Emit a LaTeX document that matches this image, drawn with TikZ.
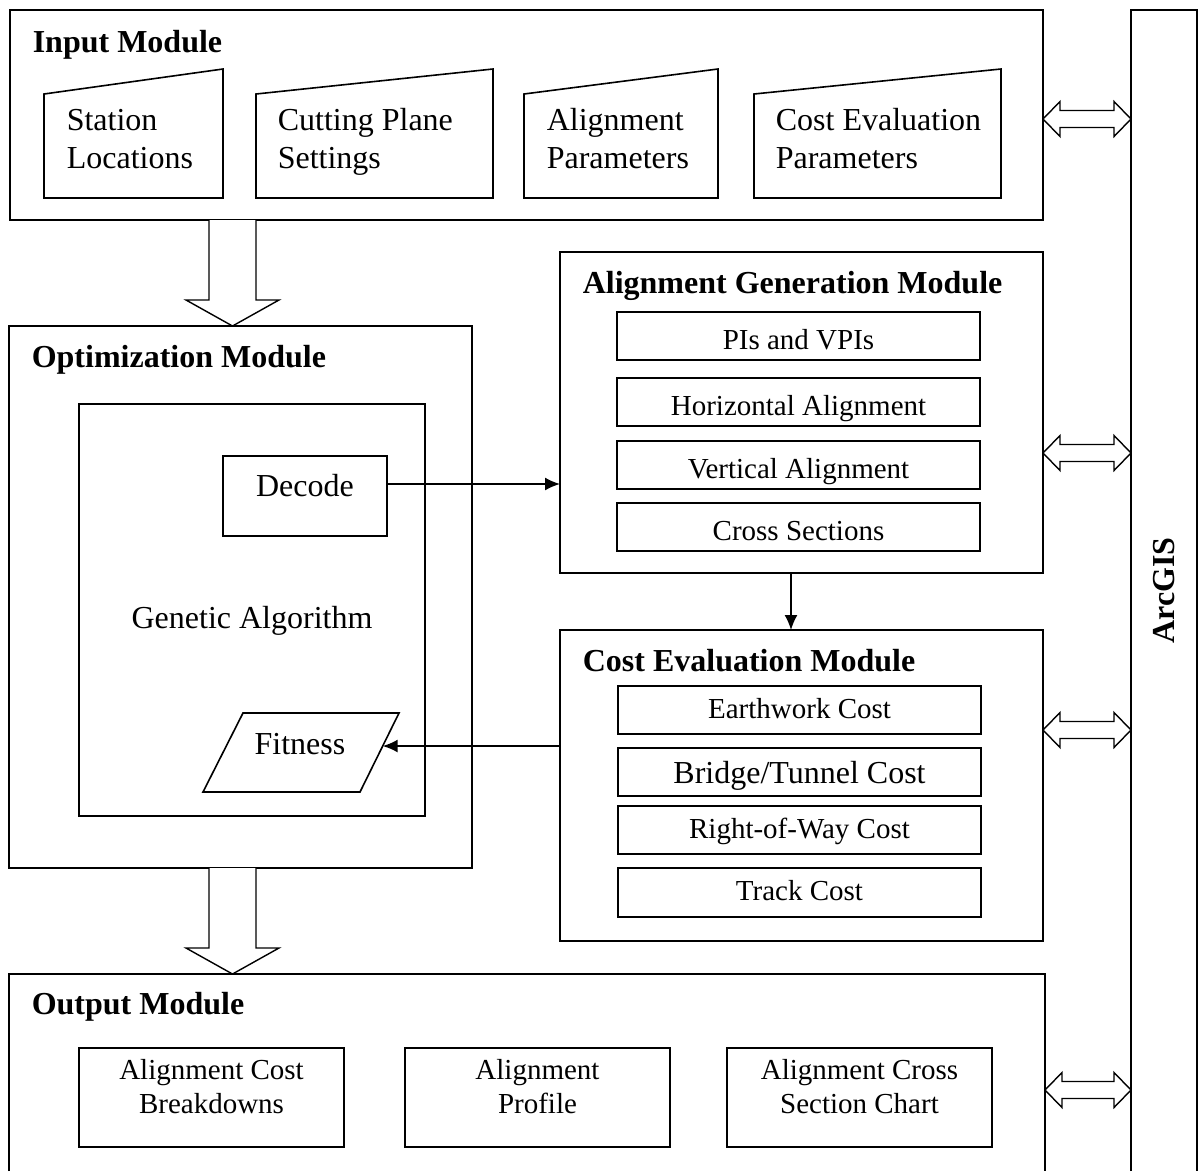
\documentclass[tikz,border=0pt]{standalone}
\usepackage{fontspec}
\setmainfont{Liberation Serif}
\usetikzlibrary{calc,arrows.meta}
\newcommand\dblarrow[2]{%
  \draw[hollow] (#1) -- ($(#1)+(17,-17.5)$) -- ($(#1)+(17,-8.5)$) -- ($(#2)+(-17,-8.5)$) -- ($(#2)+(-17,-17.5)$) -- (#2) -- ($(#2)+(-17,17.5)$) -- ($(#2)+(-17,8.5)$) -- ($(#1)+(17,8.5)$) -- ($(#1)+(17,17.5)$) -- cycle;}
\newcommand\bigdown[2]{%
  \draw[hollow] ($(#1)+(-23.5,0)$) -- ($(#2)+(-23.5,-26)$) -- ($(#2)+(-46.5,-26)$) -- (#2) -- ($(#2)+(46.5,-26)$) -- ($(#2)+(23.5,-26)$) -- ($(#1)+(23.5,0)$);}
\begin{document}
\begin{tikzpicture}[x=1pt,y=-1pt,line width=1.6pt,line join=miter,
  box/.style={draw,rectangle,inner sep=0pt,outer sep=0pt},
  ghost/.style={rectangle,inner sep=0pt,outer sep=0pt},
  title/.style={anchor=base west,inner sep=0pt,font=\fontsize{32}{38}\selectfont\bfseries},
  big/.style={font=\fontsize{32}{38}\selectfont},
  small/.style={font=\fontsize{29}{34}\selectfont},
  algitem/.style={box,small,minimum width=363pt,minimum height=48pt,text height=26pt,text depth=0pt},
  costitem/.style={box,small,minimum width=363pt,minimum height=48pt,text height=16pt,text depth=0pt},
  outitem/.style={box,minimum width=265pt,minimum height=99pt},
  hollow/.style={draw,fill=white,line width=1.4pt,line join=miter},
  conn/.style={line width=1.6pt,-{Latex[length=15pt,width=13pt]}},
]
\fill[white] (0,0) rectangle (1201,1171);
\useasboundingbox (0,0) rectangle (1201,1171);

% Input module
\node[box,minimum width=1033pt,minimum height=210pt] (inp) at (526.5,115) {};
\node[title] (inpt) at ($(inp.north west)+(22,42)$) {Input Module};
\node[ghost,minimum width=179pt,minimum height=129pt] (st) at (133.5,133.5) {};
\node[ghost,minimum width=237pt,minimum height=129pt] (cp) at (374.5,133.5) {};
\node[ghost,minimum width=194pt,minimum height=129pt] (ap) at (621,133.5) {};
\node[ghost,minimum width=247pt,minimum height=129pt] (cep) at (877.5,133.5) {};
\foreach \n in {st,cp,ap,cep}{
  \draw ($(\n.north west)+(0,25)$) -- (\n.north east) -- (\n.south east) -- (\n.south west) -- cycle;}
\node[big,anchor=base west,align=left,inner sep=0pt] (stt) at ($(st.north west)+(22,99)$) {Station\\Locations};
\node[big,anchor=base west,align=left,inner sep=0pt] (cpt) at ($(cp.north west)+(21,99)$) {Cutting Plane\\Settings};
\node[big,anchor=base west,align=left,inner sep=0pt] (apt) at ($(ap.north west)+(22,99)$) {Alignment\\Parameters};
\node[big,anchor=base west,align=left,inner sep=0pt] (cept) at ($(cep.north west)+(21,99)$) {Cost Evaluation\\Parameters};

% Optimization module
\node[box,minimum width=463pt,minimum height=542pt] (opt) at (240.5,597) {};
\node[title] (optt) at ($(opt.north west)+(22,41)$) {Optimization Module};
\node[box,minimum width=346pt,minimum height=412pt] (ga) at (252,610) {};
\node[big,anchor=base,inner sep=0pt] (gat) at ($(ga.center)+(0,18)$) {Genetic Algorithm};
\node[box,minimum width=164pt,minimum height=80pt] (dec) at (305,496) {};
\node[big,anchor=base,inner sep=0pt] (dect) at (dec.center) {Decode};
\node[ghost,minimum width=196pt,minimum height=79pt] (fit) at (301,752.5) {};
\draw ($(fit.north west)+(40,0)$) -- (fit.north east) -- ($(fit.south east)+(-39,0)$) -- (fit.south west) -- cycle;
\node[big,anchor=base,inner sep=0pt] (fitt) at ($(fit.center)+(-1,1.5)$) {Fitness};
\coordinate (fitR) at ($(fit.north east)!0.418!($(fit.south east)+(-39,0)$)$);

% Alignment generation module
\node[box,minimum width=483pt,minimum height=321pt] (alg) at (801.5,412.5) {};
\node[title] (algt) at ($(alg.north west)+(22,41)$) {Alignment Generation Module};
\node[algitem] (pi) at (798.5,336) {PIs and VPIs};
\node[algitem] (ha) at (798.5,402) {Horizontal Alignment};
\node[algitem] (va) at (798.5,465) {Vertical Alignment};
\node[algitem] (cs) at (798.5,527) {Cross Sections};

% Cost evaluation module
\node[box,minimum width=483pt,minimum height=311pt] (cost) at (801.5,785.5) {};
\node[title] (costt) at ($(cost.north west)+(22,41)$) {Cost Evaluation Module};
\node[costitem] (ew) at (799.5,710) {Earthwork Cost};
\node[costitem,big,text height=22pt] (bt) at (799.5,772) {Bridge/Tunnel Cost};
\node[costitem] (rw) at (799.5,830) {Right-of-Way Cost};
\node[costitem,minimum height=49pt] (tc) at (799.5,892.5) {Track Cost};

% Output module
\node[ghost,minimum width=1036pt,minimum height=197pt] (out) at (527,1072.5) {};
\draw (out.south west) -- (out.north west) -- (out.north east) -- (out.south east);
\node[title] (outt) at ($(out.north west)+(22,40)$) {Output Module};
\node[outitem] (o1) at (211.5,1097.5) {};
\node[outitem] (o2) at (537.5,1097.5) {};
\node[outitem] (o3) at (859.5,1097.5) {};
\node[small,anchor=base,align=center,inner sep=0pt] (o1t) at ($(o1.north)+(0,65)$) {Alignment Cost\\Breakdowns};
\node[small,anchor=base,align=center,inner sep=0pt] (o2t) at ($(o2.north)+(0,65)$) {Alignment\\Profile};
\node[small,anchor=base,align=center,inner sep=0pt] (o3t) at ($(o3.north)+(0,65)$) {Alignment Cross\\Section Chart};

% ArcGIS
\node[ghost,minimum width=66pt,minimum height=1161pt] (arc) at (1164,590.5) {};
\draw (arc.south west) -- (arc.north west) -- (arc.north east) -- (arc.south east);
\node[rotate=90,inner sep=0pt,font=\fontsize{32}{38}\selectfont\bfseries] (arct) at (arc.center) {ArcGIS};

% Big hollow arrows
\coordinate (h1s) at ($(inp.south west)+(222.5,0)$);
\coordinate (h1e) at ($(opt.north west)+(223.5,0)$);
\bigdown{h1s}{h1e}
\coordinate (h2s) at ($(opt.south west)+(223.5,0)$);
\coordinate (h2e) at ($(out.north west)+(223.5,0)$);
\bigdown{h2s}{h2e}

% Double arrows to ArcGIS
\coordinate (d1l) at ($(inp.east)+(0,4)$);
\coordinate (d1r) at (d1l -| arc.west);
\dblarrow{d1l}{d1r}
\coordinate (d2l) at ($(alg.east)+(0,40.5)$);
\coordinate (d2r) at (d2l -| arc.west);
\dblarrow{d2l}{d2r}
\coordinate (d3l) at ($(cost.east)+(0,-55.5)$);
\coordinate (d3r) at (d3l -| arc.west);
\dblarrow{d3l}{d3r}
\coordinate (d4l) at ($(out.east)+(0,17.5)$);
\coordinate (d4r) at (d4l -| arc.west);
\dblarrow{d4l}{d4r}

% Connectors
\coordinate (decR) at ($(dec.east)+(0,-12)$);
\draw[conn] (decR) -- (decR -| alg.west);
\draw[conn] ($(alg.south west)+(231,0)$) -- ($(cost.north west)+(231,0)$);
\draw[conn] (cost.west |- fitR) -- (fitR);
\end{tikzpicture}
\end{document}
